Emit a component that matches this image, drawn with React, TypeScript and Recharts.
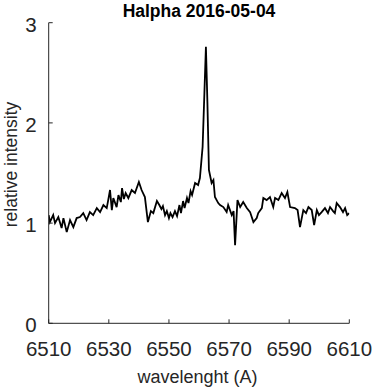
import React from 'react';
import { LineChart, Line, XAxis, YAxis } from 'recharts';

const wavelengths = [
  6510.0, 6510.4, 6511.5, 6512.1, 6513.2, 6514.3, 6514.9, 6516.0, 6517.1, 6518.2,
  6519.3, 6520.4, 6521.5, 6522.6, 6523.7, 6524.8, 6526.0, 6527.1, 6528.2, 6529.3,
  6529.8, 6530.4, 6531.0, 6531.5, 6532.6, 6533.2, 6534.0, 6534.4, 6535.0, 6535.6,
  6536.5, 6537.6, 6538.7, 6540.0, 6540.9, 6542.0, 6543.0, 6544.0, 6544.8, 6546.0,
  6546.8, 6547.5, 6548.0, 6548.7, 6549.3, 6550.0, 6550.5, 6551.2, 6552.0, 6552.7,
  6553.5, 6554.0, 6554.7, 6555.2, 6556.0, 6556.5, 6557.2, 6557.7, 6558.7, 6559.7,
  6560.3, 6561.2, 6561.8, 6562.3, 6562.8, 6563.3, 6564.2, 6564.8, 6565.3, 6566.4,
  6567.0, 6568.1, 6569.2, 6569.7, 6570.9, 6571.5, 6572.0, 6572.8, 6573.7, 6574.7,
  6575.9, 6577.0, 6578.1, 6579.2, 6579.7, 6580.9, 6581.4, 6582.5, 6583.6, 6584.7,
  6585.3, 6586.4, 6587.5, 6588.6, 6589.4, 6590.3, 6591.9, 6592.8, 6593.6, 6594.7,
  6595.6, 6596.4, 6597.5, 6598.3, 6599.2, 6599.9, 6600.8, 6601.9, 6602.9, 6603.6,
  6604.6, 6605.2, 6605.8, 6606.9, 6607.9, 6608.6, 6609.3, 6610.0,
];

const intensities = [
  1.08, 1.01, 1.08, 1.00, 1.06, 0.95, 1.05, 0.91, 1.03, 0.96,
  1.05, 1.06, 1.10, 1.03, 1.11, 1.08, 1.15, 1.11, 1.18, 1.15,
  1.23, 1.33, 1.13, 1.25, 1.16, 1.28, 1.21, 1.35, 1.24, 1.30,
  1.25, 1.33, 1.30, 1.41, 1.33, 1.26, 1.01, 1.12, 1.10, 1.22,
  1.18, 1.14, 1.17, 1.08, 1.12, 1.05, 1.10, 1.06, 1.12, 1.07,
  1.18, 1.10, 1.22, 1.15, 1.25, 1.20, 1.32, 1.28, 1.40, 1.38,
  1.45, 1.76, 2.30, 2.76, 2.20, 1.53, 1.40, 1.43, 1.26, 1.20,
  1.18, 1.16, 1.11, 1.18, 1.08, 1.12, 0.78, 1.23, 1.16, 1.21,
  1.15, 1.11, 1.01, 1.05, 1.10, 1.15, 1.25, 1.23, 1.26, 1.16,
  1.25, 1.23, 1.30, 1.25, 1.31, 1.16, 1.15, 1.13, 0.96, 1.13,
  1.10, 1.16, 1.13, 0.98, 1.13, 1.08, 1.11, 1.15, 1.10, 1.16,
  1.12, 1.10, 1.20, 1.16, 1.11, 1.15, 1.08, 1.10,
];

const xTicks = [6510, 6530, 6550, 6570, 6590, 6610];
const yTicks = [0, 1, 2, 3];

const titleText = 'Halpha 2016-05-04';
const xLabelText = 'wavelenght (A)';
const yLabelText = 'relative intensity';

const data = wavelengths.map((w, i) => ({ w, v: intensities[i] }));

const FONT = '"Liberation Sans", Arial, Helvetica, sans-serif';
const TEXT_COLOR = '#262626';
const TICK_LEN = 4;

const BottomTick = (props: any) => {
  const { x, y, payload } = props;
  return (
    <g>
      <line x1={x} x2={x} y1={y} y2={y - TICK_LEN} stroke="#262626" strokeWidth={1} />
      <text x={x} y={y + 32.7} textAnchor="middle" fontSize={20.5} fontFamily={FONT} fill={TEXT_COLOR}>
        {payload.value}
      </text>
    </g>
  );
};

const TopTick = (props: any) => {
  const { x, y } = props;
  return <line x1={x} x2={x} y1={y} y2={y + TICK_LEN} stroke="#262626" strokeWidth={1} />;
};

const LeftTick = (props: any) => {
  const { x, y, payload } = props;
  return (
    <g>
      <line x1={x} x2={x + TICK_LEN} y1={y} y2={y} stroke="#262626" strokeWidth={1} />
      <text x={x - 12} y={y + 9} textAnchor="end" fontSize={20.5} fontFamily={FONT} fill={TEXT_COLOR}>
        {payload.value}
      </text>
    </g>
  );
};

const RightTick = (props: any) => {
  const { x, y } = props;
  return <line x1={x} x2={x - TICK_LEN} y1={y} y2={y} stroke="#262626" strokeWidth={1} />;
};

export default function App() {
  return (
    <div style={{ position: 'absolute', left: 0, top: 0, width: 375, height: 390, background: '#fff' }}>
      <LineChart
        width={375}
        height={390}
        data={data}
        margin={{ top: 22.7, right: 25.7, left: 0, bottom: 0 }}
      >
        <XAxis
          dataKey="w"
          type="number"
          domain={[6510, 6610]}
          ticks={xTicks}
          allowDataOverflow
          height={66.7}
          tickSize={0}
          tickMargin={0}
          tickLine={false}
          axisLine={{ stroke: '#262626', strokeWidth: 1 }}
          tick={<BottomTick />}
          interval={0}
        />
        <XAxis
          xAxisId="top"
          dataKey="w"
          type="number"
          orientation="top"
          domain={[6510, 6610]}
          ticks={xTicks}
          allowDataOverflow
          height={0}
          tickSize={0}
          tickMargin={0}
          tickLine={false}
          axisLine={{ stroke: '#262626', strokeWidth: 1 }}
          tick={<TopTick />}
          interval={0}
        />
        <YAxis
          type="number"
          domain={[0, 3]}
          ticks={yTicks}
          allowDataOverflow
          width={48.7}
          tickSize={0}
          tickMargin={0}
          tickLine={false}
          axisLine={{ stroke: '#262626', strokeWidth: 1 }}
          tick={<LeftTick />}
          interval={0}
        />
        <YAxis
          yAxisId="right"
          orientation="right"
          type="number"
          domain={[0, 3]}
          ticks={yTicks}
          allowDataOverflow
          width={0}
          tickSize={0}
          tickMargin={0}
          tickLine={false}
          axisLine={{ stroke: '#262626', strokeWidth: 1 }}
          tick={<RightTick />}
          interval={0}
        />
        <Line
          dataKey="v"
          type="linear"
          dot={false}
          stroke="#000"
          strokeWidth={1.8}
          isAnimationActive={false}
        />
        <text x={199} y={16.5} textAnchor="middle" fontSize={17.5} fontWeight="bold" fontFamily={FONT} fill="#000">
          {titleText}
        </text>
        <text x={197.5} y={383} textAnchor="middle" fontSize={18} fontFamily={FONT} fill={TEXT_COLOR}>
          {xLabelText}
        </text>
        <text
          x={17}
          y={164.5}
          textAnchor="middle"
          fontSize={17.5}
          fontFamily={FONT}
          fill={TEXT_COLOR}
          transform="rotate(-90 17 164.5)"
        >
          {yLabelText}
        </text>
      </LineChart>
    </div>
  );
}
